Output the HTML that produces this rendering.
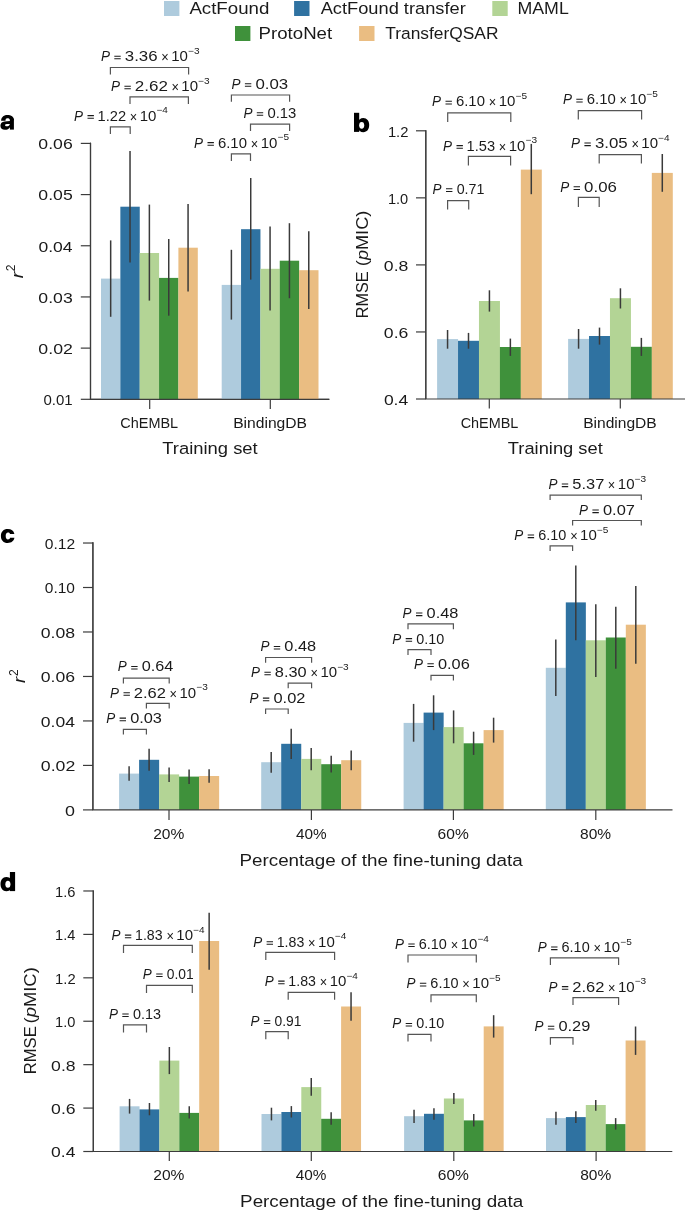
<!DOCTYPE html>
<html><head><meta charset="utf-8"><title>chart</title>
<style>
html,body{margin:0;padding:0;background:#fff;}
svg{display:block;will-change:transform;}
text{font-family:"Liberation Sans", sans-serif;}
</style></head>
<body>
<svg width="685" height="1211" viewBox="0 0 685 1211" font-family='"Liberation Sans", sans-serif'>
<rect width="685" height="1211" fill="#ffffff"/>
<rect x="164.0" y="1.0" width="15.4" height="15" fill="#aecbdd"/>
<text x="189.40" y="13.70" font-size="17.2" fill="#1a1a1a" textLength="79.92" lengthAdjust="spacingAndGlyphs">ActFound</text>
<rect x="294.1" y="1.0" width="15.4" height="15" fill="#2f72a1"/>
<text x="320.70" y="13.70" font-size="17.2" fill="#1a1a1a" textLength="145.04" lengthAdjust="spacingAndGlyphs">ActFound transfer</text>
<rect x="492.3" y="1.0" width="15.4" height="15" fill="#b3d495"/>
<text x="517.48" y="13.70" font-size="17.2" fill="#1a1a1a" textLength="51.34" lengthAdjust="spacingAndGlyphs">MAML</text>
<rect x="235.0" y="26.0" width="15.4" height="15" fill="#3f913b"/>
<text x="258.61" y="38.80" font-size="17.2" fill="#1a1a1a" textLength="73.51" lengthAdjust="spacingAndGlyphs">ProtoNet</text>
<rect x="359.1" y="26.0" width="15.4" height="15" fill="#eabd82"/>
<text x="385.25" y="38.80" font-size="17.2" fill="#1a1a1a" textLength="113.23" lengthAdjust="spacingAndGlyphs">TransferQSAR</text>
<g fill="#000"><rect x="9.9" y="118.6" width="4.0" height="11.0"/><path d="M1.1,120.8 C1.2,116.8 4.5,115.1 7.3,115.1 C11.2,115.1 13.9,116.6 13.9,120.3 L9.9,120.3 C9.9,118.9 8.9,118.3 7.3,118.3 C6.0,118.3 5.5,119.1 5.5,120.8 Z"/><path fill-rule="evenodd" d="M10.0,121.1 L4.6,121.4 C1.9,121.6 0.4,123.3 0.4,125.7 C0.4,128.2 2.2,129.8 4.9,129.8 C7.3,129.8 9.0,128.8 10.0,127.2 Z M9.95,124.0 L6.6,124.1 C5.6,124.2 5.1,124.6 5.1,125.2 C5.1,125.9 5.7,126.3 6.6,126.3 C8.4,126.3 9.6,125.6 9.95,124.0 Z"/></g>
<line x1="90.50" y1="142.80" x2="90.50" y2="399.30" stroke="#3c3c3c" stroke-width="1.2"/>
<line x1="80.80" y1="143.40" x2="90.50" y2="143.40" stroke="#3c3c3c" stroke-width="1.2"/>
<text x="38.39" y="149.30" font-size="15" fill="#1a1a1a" textLength="34.33" lengthAdjust="spacingAndGlyphs">0.06</text>
<line x1="80.80" y1="194.58" x2="90.50" y2="194.58" stroke="#3c3c3c" stroke-width="1.2"/>
<text x="38.39" y="200.48" font-size="15" fill="#1a1a1a" textLength="34.33" lengthAdjust="spacingAndGlyphs">0.05</text>
<line x1="80.80" y1="245.76" x2="90.50" y2="245.76" stroke="#3c3c3c" stroke-width="1.2"/>
<text x="38.40" y="251.66" font-size="15" fill="#1a1a1a" textLength="34.15" lengthAdjust="spacingAndGlyphs">0.04</text>
<line x1="80.80" y1="296.94" x2="90.50" y2="296.94" stroke="#3c3c3c" stroke-width="1.2"/>
<text x="38.39" y="302.84" font-size="15" fill="#1a1a1a" textLength="34.33" lengthAdjust="spacingAndGlyphs">0.03</text>
<line x1="80.80" y1="348.12" x2="90.50" y2="348.12" stroke="#3c3c3c" stroke-width="1.2"/>
<text x="38.39" y="354.02" font-size="15" fill="#1a1a1a" textLength="34.52" lengthAdjust="spacingAndGlyphs">0.02</text>
<line x1="80.80" y1="399.30" x2="90.50" y2="399.30" stroke="#3c3c3c" stroke-width="1.2"/>
<text x="43.50" y="405.20" font-size="15" fill="#1a1a1a" textLength="29.19" lengthAdjust="spacingAndGlyphs">0.01</text>
<line x1="89.90" y1="399.30" x2="329.30" y2="399.30" stroke="#3c3c3c" stroke-width="1.2"/>
<line x1="149.70" y1="399.30" x2="149.70" y2="408.90" stroke="#3c3c3c" stroke-width="1.2"/>
<line x1="270.30" y1="399.30" x2="270.30" y2="408.90" stroke="#3c3c3c" stroke-width="1.2"/>
<rect x="101.00" y="278.60" width="19.40" height="120.70" fill="#aecbdd"/>
<rect x="120.35" y="206.70" width="19.40" height="192.60" fill="#2f72a1"/>
<rect x="139.70" y="253.00" width="19.40" height="146.30" fill="#b3d495"/>
<rect x="159.05" y="277.90" width="19.40" height="121.40" fill="#3f913b"/>
<rect x="178.40" y="247.70" width="19.40" height="151.60" fill="#eabd82"/>
<rect x="221.70" y="284.90" width="19.40" height="114.40" fill="#aecbdd"/>
<rect x="241.05" y="229.20" width="19.40" height="170.10" fill="#2f72a1"/>
<rect x="260.40" y="268.80" width="19.40" height="130.50" fill="#b3d495"/>
<rect x="279.75" y="260.70" width="19.40" height="138.60" fill="#3f913b"/>
<rect x="299.10" y="270.20" width="19.40" height="129.10" fill="#eabd82"/>
<line x1="110.67" y1="240.40" x2="110.67" y2="316.80" stroke="#3a3a3a" stroke-width="1.5"/>
<line x1="130.03" y1="151.00" x2="130.03" y2="262.40" stroke="#3a3a3a" stroke-width="1.5"/>
<line x1="149.38" y1="204.60" x2="149.38" y2="300.60" stroke="#3a3a3a" stroke-width="1.5"/>
<line x1="168.73" y1="239.00" x2="168.73" y2="315.70" stroke="#3a3a3a" stroke-width="1.5"/>
<line x1="188.07" y1="204.00" x2="188.07" y2="291.50" stroke="#3a3a3a" stroke-width="1.5"/>
<line x1="231.38" y1="249.80" x2="231.38" y2="319.60" stroke="#3a3a3a" stroke-width="1.5"/>
<line x1="250.72" y1="178.00" x2="250.72" y2="279.60" stroke="#3a3a3a" stroke-width="1.5"/>
<line x1="270.07" y1="226.40" x2="270.07" y2="310.40" stroke="#3a3a3a" stroke-width="1.5"/>
<line x1="289.43" y1="223.20" x2="289.43" y2="298.20" stroke="#3a3a3a" stroke-width="1.5"/>
<line x1="308.77" y1="231.30" x2="308.77" y2="309.00" stroke="#3a3a3a" stroke-width="1.5"/>
<line x1="89.90" y1="399.30" x2="329.30" y2="399.30" stroke="#3c3c3c" stroke-width="1.2"/>
<line x1="90.50" y1="142.80" x2="90.50" y2="399.30" stroke="#3c3c3c" stroke-width="1.2"/>
<path d="M110.40,74.50V67.50H188.60V74.50" fill="none" stroke="#555555" stroke-width="1.2"/>
<path d="M130.00,103.90V96.80H188.40V103.90" fill="none" stroke="#555555" stroke-width="1.2"/>
<path d="M110.40,133.90V126.90H130.20V133.90" fill="none" stroke="#555555" stroke-width="1.2"/>
<path d="M231.40,101.80V95.00H289.60V101.80" fill="none" stroke="#555555" stroke-width="1.2"/>
<path d="M250.50,130.90V124.20H289.60V130.90" fill="none" stroke="#555555" stroke-width="1.2"/>
<path d="M231.40,160.90V153.90H250.50V160.90" fill="none" stroke="#555555" stroke-width="1.2"/>
<text x="100.90" y="61.20" font-size="14.6" fill="#1a1a1a" textLength="9.00" lengthAdjust="spacingAndGlyphs"><tspan font-style="italic">P</tspan></text>
<path d="M114.30,56.20h6.4M114.30,58.80h6.4" stroke="#1a1a1a" stroke-width="1.05"/>
<text x="124.83" y="61.20" font-size="14.6" fill="#1a1a1a" textLength="32.77" lengthAdjust="spacingAndGlyphs">3.36</text>
<text x="161.30" y="62.30" font-size="14.6" fill="#1a1a1a" textLength="7.48" lengthAdjust="spacingAndGlyphs">×</text>
<text x="171.28" y="61.20" font-size="14.6" fill="#1a1a1a" textLength="16.69" lengthAdjust="spacingAndGlyphs">10</text>
<text x="188.00" y="53.80" font-size="9.0" fill="#1a1a1a" textLength="11.51" lengthAdjust="spacingAndGlyphs">−3</text>
<text x="111.00" y="91.20" font-size="14.6" fill="#1a1a1a" textLength="9.00" lengthAdjust="spacingAndGlyphs"><tspan font-style="italic">P</tspan></text>
<path d="M124.40,86.20h6.4M124.40,88.80h6.4" stroke="#1a1a1a" stroke-width="1.05"/>
<text x="134.75" y="91.20" font-size="14.6" fill="#1a1a1a" textLength="33.12" lengthAdjust="spacingAndGlyphs">2.62</text>
<text x="171.40" y="92.30" font-size="14.6" fill="#1a1a1a" textLength="7.48" lengthAdjust="spacingAndGlyphs">×</text>
<text x="181.38" y="91.20" font-size="14.6" fill="#1a1a1a" textLength="16.69" lengthAdjust="spacingAndGlyphs">10</text>
<text x="198.10" y="83.80" font-size="9.0" fill="#1a1a1a" textLength="11.51" lengthAdjust="spacingAndGlyphs">−3</text>
<text x="74.10" y="120.60" font-size="14.6" fill="#1a1a1a" textLength="9.00" lengthAdjust="spacingAndGlyphs"><tspan font-style="italic">P</tspan></text>
<path d="M87.50,115.60h6.4M87.50,118.20h6.4" stroke="#1a1a1a" stroke-width="1.05"/>
<text x="97.60" y="120.60" font-size="14.6" fill="#1a1a1a" textLength="28.55" lengthAdjust="spacingAndGlyphs">1.22</text>
<text x="129.80" y="121.70" font-size="14.6" fill="#1a1a1a" textLength="7.48" lengthAdjust="spacingAndGlyphs">×</text>
<text x="139.78" y="120.60" font-size="14.6" fill="#1a1a1a" textLength="16.69" lengthAdjust="spacingAndGlyphs">10</text>
<text x="156.50" y="113.20" font-size="9.0" fill="#1a1a1a" textLength="11.40" lengthAdjust="spacingAndGlyphs">−4</text>
<text x="231.50" y="88.70" font-size="14.6" fill="#1a1a1a" textLength="9.00" lengthAdjust="spacingAndGlyphs"><tspan font-style="italic">P</tspan></text>
<path d="M244.90,83.70h6.4M244.90,86.30h6.4" stroke="#1a1a1a" stroke-width="1.05"/>
<text x="255.43" y="88.70" font-size="14.6" fill="#1a1a1a" textLength="32.77" lengthAdjust="spacingAndGlyphs">0.03</text>
<text x="243.40" y="117.70" font-size="14.6" fill="#1a1a1a" textLength="9.00" lengthAdjust="spacingAndGlyphs"><tspan font-style="italic">P</tspan></text>
<path d="M256.80,112.70h6.4M256.80,115.30h6.4" stroke="#1a1a1a" stroke-width="1.05"/>
<text x="267.41" y="117.70" font-size="14.6" fill="#1a1a1a" textLength="28.91" lengthAdjust="spacingAndGlyphs">0.13</text>
<text x="194.10" y="147.60" font-size="14.6" fill="#1a1a1a" textLength="9.00" lengthAdjust="spacingAndGlyphs"><tspan font-style="italic">P</tspan></text>
<path d="M207.50,142.60h6.4M207.50,145.20h6.4" stroke="#1a1a1a" stroke-width="1.05"/>
<text x="217.96" y="147.60" font-size="14.6" fill="#1a1a1a" textLength="28.99" lengthAdjust="spacingAndGlyphs">6.10</text>
<text x="250.80" y="148.70" font-size="14.6" fill="#1a1a1a" textLength="7.48" lengthAdjust="spacingAndGlyphs">×</text>
<text x="260.77" y="147.60" font-size="14.6" fill="#1a1a1a" textLength="16.69" lengthAdjust="spacingAndGlyphs">10</text>
<text x="277.50" y="140.20" font-size="9.0" fill="#1a1a1a" textLength="11.51" lengthAdjust="spacingAndGlyphs">−5</text>
<text x="120.28" y="428.00" font-size="14.5" fill="#1a1a1a" textLength="57.88" lengthAdjust="spacingAndGlyphs">ChEMBL</text>
<text x="233.15" y="427.70" font-size="14.5" fill="#1a1a1a" textLength="73.84" lengthAdjust="spacingAndGlyphs">BindingDB</text>
<text x="162.23" y="454.20" font-size="17.4" fill="#1a1a1a" textLength="95.51" lengthAdjust="spacingAndGlyphs">Training set</text>
<g><rect x="354.0" y="112.8" width="5.2" height="19.1" fill="#000"/><path d="M357.5,122.5 C358.5,119.6 360.6,118.0 363.3,118.0 C366.9,118.0 369.2,121.0 369.2,125.1 C369.2,129.3 366.9,132.2 363.3,132.2 C360.6,132.2 358.5,130.6 357.5,127.7 Z" fill="#000"/><ellipse cx="361.7" cy="125.35" rx="2.55" ry="3.4" fill="#fff"/></g>
<line x1="425.80" y1="130.30" x2="425.80" y2="399.00" stroke="#3c3c3c" stroke-width="1.2"/>
<line x1="416.00" y1="130.80" x2="425.80" y2="130.80" stroke="#3c3c3c" stroke-width="1.2"/>
<text x="387.89" y="136.70" font-size="15" fill="#1a1a1a" textLength="20.55" lengthAdjust="spacingAndGlyphs">1.2</text>
<line x1="416.00" y1="197.85" x2="425.80" y2="197.85" stroke="#3c3c3c" stroke-width="1.2"/>
<text x="387.90" y="203.75" font-size="15" fill="#1a1a1a" textLength="20.31" lengthAdjust="spacingAndGlyphs">1.0</text>
<line x1="416.00" y1="264.90" x2="425.80" y2="264.90" stroke="#3c3c3c" stroke-width="1.2"/>
<text x="383.89" y="270.80" font-size="15" fill="#1a1a1a" textLength="24.51" lengthAdjust="spacingAndGlyphs">0.8</text>
<line x1="416.00" y1="331.95" x2="425.80" y2="331.95" stroke="#3c3c3c" stroke-width="1.2"/>
<text x="383.89" y="337.85" font-size="15" fill="#1a1a1a" textLength="24.51" lengthAdjust="spacingAndGlyphs">0.6</text>
<line x1="416.00" y1="399.00" x2="425.80" y2="399.00" stroke="#3c3c3c" stroke-width="1.2"/>
<text x="383.90" y="404.90" font-size="15" fill="#1a1a1a" textLength="24.33" lengthAdjust="spacingAndGlyphs">0.4</text>
<line x1="489.30" y1="399.00" x2="489.30" y2="408.60" stroke="#3c3c3c" stroke-width="1.2"/>
<line x1="620.30" y1="399.00" x2="620.30" y2="408.60" stroke="#3c3c3c" stroke-width="1.2"/>
<rect x="437.10" y="339.10" width="20.98" height="59.90" fill="#aecbdd"/>
<rect x="458.03" y="340.80" width="20.98" height="58.20" fill="#2f72a1"/>
<rect x="478.96" y="301.00" width="20.98" height="98.00" fill="#b3d495"/>
<rect x="499.89" y="347.00" width="20.98" height="52.00" fill="#3f913b"/>
<rect x="520.82" y="169.60" width="20.98" height="229.40" fill="#eabd82"/>
<rect x="568.10" y="338.90" width="20.98" height="60.10" fill="#aecbdd"/>
<rect x="589.03" y="336.00" width="20.98" height="63.00" fill="#2f72a1"/>
<rect x="609.96" y="298.20" width="20.98" height="100.80" fill="#b3d495"/>
<rect x="630.89" y="346.80" width="20.98" height="52.20" fill="#3f913b"/>
<rect x="651.82" y="172.90" width="20.98" height="226.10" fill="#eabd82"/>
<line x1="447.56" y1="330.00" x2="447.56" y2="348.70" stroke="#3a3a3a" stroke-width="1.5"/>
<line x1="468.50" y1="332.90" x2="468.50" y2="348.70" stroke="#3a3a3a" stroke-width="1.5"/>
<line x1="489.43" y1="290.30" x2="489.43" y2="311.60" stroke="#3a3a3a" stroke-width="1.5"/>
<line x1="510.36" y1="338.60" x2="510.36" y2="355.90" stroke="#3a3a3a" stroke-width="1.5"/>
<line x1="531.29" y1="143.90" x2="531.29" y2="194.20" stroke="#3a3a3a" stroke-width="1.5"/>
<line x1="578.57" y1="329.00" x2="578.57" y2="348.70" stroke="#3a3a3a" stroke-width="1.5"/>
<line x1="599.50" y1="327.60" x2="599.50" y2="344.60" stroke="#3a3a3a" stroke-width="1.5"/>
<line x1="620.43" y1="288.30" x2="620.43" y2="308.50" stroke="#3a3a3a" stroke-width="1.5"/>
<line x1="641.36" y1="337.90" x2="641.36" y2="355.90" stroke="#3a3a3a" stroke-width="1.5"/>
<line x1="662.29" y1="154.00" x2="662.29" y2="191.80" stroke="#3a3a3a" stroke-width="1.5"/>
<line x1="425.20" y1="399.00" x2="685.00" y2="399.00" stroke="#3c3c3c" stroke-width="1.2"/>
<line x1="425.80" y1="130.30" x2="425.80" y2="399.00" stroke="#3c3c3c" stroke-width="1.2"/>
<path d="M447.70,121.90V112.80H510.80V121.90" fill="none" stroke="#555555" stroke-width="1.2"/>
<path d="M468.40,165.50V156.40H510.60V165.50" fill="none" stroke="#555555" stroke-width="1.2"/>
<path d="M447.60,209.50V200.70H468.70V209.50" fill="none" stroke="#555555" stroke-width="1.2"/>
<path d="M578.30,119.60V110.70H641.60V119.60" fill="none" stroke="#555555" stroke-width="1.2"/>
<path d="M599.20,163.50V154.70H641.40V163.50" fill="none" stroke="#555555" stroke-width="1.2"/>
<path d="M578.40,206.90V197.30H599.20V206.90" fill="none" stroke="#555555" stroke-width="1.2"/>
<text x="432.10" y="106.30" font-size="14.6" fill="#1a1a1a" textLength="9.00" lengthAdjust="spacingAndGlyphs"><tspan font-style="italic">P</tspan></text>
<path d="M445.50,101.30h6.4M445.50,103.90h6.4" stroke="#1a1a1a" stroke-width="1.05"/>
<text x="455.96" y="106.30" font-size="14.6" fill="#1a1a1a" textLength="28.99" lengthAdjust="spacingAndGlyphs">6.10</text>
<text x="488.80" y="107.40" font-size="14.6" fill="#1a1a1a" textLength="7.48" lengthAdjust="spacingAndGlyphs">×</text>
<text x="498.77" y="106.30" font-size="14.6" fill="#1a1a1a" textLength="16.69" lengthAdjust="spacingAndGlyphs">10</text>
<text x="515.50" y="98.90" font-size="9.0" fill="#1a1a1a" textLength="11.51" lengthAdjust="spacingAndGlyphs">−5</text>
<text x="443.10" y="150.60" font-size="14.6" fill="#1a1a1a" textLength="9.00" lengthAdjust="spacingAndGlyphs"><tspan font-style="italic">P</tspan></text>
<path d="M456.50,145.60h6.4M456.50,148.20h6.4" stroke="#1a1a1a" stroke-width="1.05"/>
<text x="466.61" y="150.60" font-size="14.6" fill="#1a1a1a" textLength="28.40" lengthAdjust="spacingAndGlyphs">1.53</text>
<text x="498.80" y="151.70" font-size="14.6" fill="#1a1a1a" textLength="7.48" lengthAdjust="spacingAndGlyphs">×</text>
<text x="508.77" y="150.60" font-size="14.6" fill="#1a1a1a" textLength="16.69" lengthAdjust="spacingAndGlyphs">10</text>
<text x="525.50" y="143.20" font-size="9.0" fill="#1a1a1a" textLength="11.51" lengthAdjust="spacingAndGlyphs">−3</text>
<text x="432.60" y="193.80" font-size="14.6" fill="#1a1a1a" textLength="9.00" lengthAdjust="spacingAndGlyphs"><tspan font-style="italic">P</tspan></text>
<path d="M446.00,188.80h6.4M446.00,191.40h6.4" stroke="#1a1a1a" stroke-width="1.05"/>
<text x="456.63" y="193.80" font-size="14.6" fill="#1a1a1a" textLength="27.73" lengthAdjust="spacingAndGlyphs">0.71</text>
<text x="562.90" y="104.30" font-size="14.6" fill="#1a1a1a" textLength="9.00" lengthAdjust="spacingAndGlyphs"><tspan font-style="italic">P</tspan></text>
<path d="M576.30,99.30h6.4M576.30,101.90h6.4" stroke="#1a1a1a" stroke-width="1.05"/>
<text x="586.76" y="104.30" font-size="14.6" fill="#1a1a1a" textLength="28.99" lengthAdjust="spacingAndGlyphs">6.10</text>
<text x="619.60" y="105.40" font-size="14.6" fill="#1a1a1a" textLength="7.48" lengthAdjust="spacingAndGlyphs">×</text>
<text x="629.58" y="104.30" font-size="14.6" fill="#1a1a1a" textLength="16.69" lengthAdjust="spacingAndGlyphs">10</text>
<text x="646.30" y="96.90" font-size="9.0" fill="#1a1a1a" textLength="11.51" lengthAdjust="spacingAndGlyphs">−5</text>
<text x="571.00" y="148.00" font-size="14.6" fill="#1a1a1a" textLength="9.00" lengthAdjust="spacingAndGlyphs"><tspan font-style="italic">P</tspan></text>
<path d="M584.40,143.00h6.4M584.40,145.60h6.4" stroke="#1a1a1a" stroke-width="1.05"/>
<text x="594.93" y="148.00" font-size="14.6" fill="#1a1a1a" textLength="32.77" lengthAdjust="spacingAndGlyphs">3.05</text>
<text x="631.40" y="149.10" font-size="14.6" fill="#1a1a1a" textLength="7.48" lengthAdjust="spacingAndGlyphs">×</text>
<text x="641.38" y="148.00" font-size="14.6" fill="#1a1a1a" textLength="16.69" lengthAdjust="spacingAndGlyphs">10</text>
<text x="658.10" y="140.60" font-size="9.0" fill="#1a1a1a" textLength="11.40" lengthAdjust="spacingAndGlyphs">−4</text>
<text x="560.20" y="191.80" font-size="14.6" fill="#1a1a1a" textLength="9.00" lengthAdjust="spacingAndGlyphs"><tspan font-style="italic">P</tspan></text>
<path d="M573.60,186.80h6.4M573.60,189.40h6.4" stroke="#1a1a1a" stroke-width="1.05"/>
<text x="584.13" y="191.80" font-size="14.6" fill="#1a1a1a" textLength="32.77" lengthAdjust="spacingAndGlyphs">0.06</text>
<text x="460.68" y="427.50" font-size="14.5" fill="#1a1a1a" textLength="57.68" lengthAdjust="spacingAndGlyphs">ChEMBL</text>
<text x="583.15" y="427.50" font-size="14.5" fill="#1a1a1a" textLength="73.63" lengthAdjust="spacingAndGlyphs">BindingDB</text>
<text x="507.83" y="453.80" font-size="17.4" fill="#1a1a1a" textLength="94.91" lengthAdjust="spacingAndGlyphs">Training set</text>
<g><path d="M14.4,533.9 L10.0,533.9 C9.7,533.0 9.0,532.5 8.0,532.5 C6.5,532.5 5.7,533.8 5.7,536.1 C5.7,538.3 6.5,539.5 8.0,539.5 C9.1,539.5 9.8,538.9 10.1,537.8 L14.4,537.8 C13.9,541.1 11.4,543.0 7.7,543.0 C3.5,543.0 0.9,540.3 0.9,536.0 C0.9,531.7 3.5,529.0 7.7,529.0 C11.3,529.0 13.8,530.8 14.4,533.9 Z" fill="#000"/></g>
<line x1="92.90" y1="542.30" x2="92.90" y2="809.90" stroke="#3c3c3c" stroke-width="1.2"/>
<line x1="83.00" y1="543.02" x2="92.90" y2="543.02" stroke="#3c3c3c" stroke-width="1.2"/>
<text x="44.77" y="548.92" font-size="15" fill="#1a1a1a" textLength="30.43" lengthAdjust="spacingAndGlyphs">0.12</text>
<line x1="83.00" y1="587.50" x2="92.90" y2="587.50" stroke="#3c3c3c" stroke-width="1.2"/>
<text x="44.78" y="593.40" font-size="15" fill="#1a1a1a" textLength="30.18" lengthAdjust="spacingAndGlyphs">0.10</text>
<line x1="83.00" y1="631.98" x2="92.90" y2="631.98" stroke="#3c3c3c" stroke-width="1.2"/>
<text x="40.79" y="637.88" font-size="15" fill="#1a1a1a" textLength="34.33" lengthAdjust="spacingAndGlyphs">0.08</text>
<line x1="83.00" y1="676.46" x2="92.90" y2="676.46" stroke="#3c3c3c" stroke-width="1.2"/>
<text x="40.79" y="682.36" font-size="15" fill="#1a1a1a" textLength="34.33" lengthAdjust="spacingAndGlyphs">0.06</text>
<line x1="83.00" y1="720.94" x2="92.90" y2="720.94" stroke="#3c3c3c" stroke-width="1.2"/>
<text x="40.80" y="726.84" font-size="15" fill="#1a1a1a" textLength="34.15" lengthAdjust="spacingAndGlyphs">0.04</text>
<line x1="83.00" y1="765.42" x2="92.90" y2="765.42" stroke="#3c3c3c" stroke-width="1.2"/>
<text x="40.79" y="771.32" font-size="15" fill="#1a1a1a" textLength="34.52" lengthAdjust="spacingAndGlyphs">0.02</text>
<line x1="83.00" y1="809.90" x2="92.90" y2="809.90" stroke="#3c3c3c" stroke-width="1.2"/>
<text x="65.08" y="815.80" font-size="15" fill="#1a1a1a" textLength="9.96" lengthAdjust="spacingAndGlyphs">0</text>
<line x1="169.00" y1="809.90" x2="169.00" y2="819.90" stroke="#3c3c3c" stroke-width="1.2"/>
<line x1="311.40" y1="809.90" x2="311.40" y2="819.90" stroke="#3c3c3c" stroke-width="1.2"/>
<line x1="453.40" y1="809.90" x2="453.40" y2="819.90" stroke="#3c3c3c" stroke-width="1.2"/>
<line x1="595.80" y1="809.90" x2="595.80" y2="819.90" stroke="#3c3c3c" stroke-width="1.2"/>
<rect x="119.10" y="773.60" width="20.05" height="36.30" fill="#aecbdd"/>
<rect x="139.10" y="759.80" width="20.05" height="50.10" fill="#2f72a1"/>
<rect x="159.10" y="774.40" width="20.05" height="35.50" fill="#b3d495"/>
<rect x="179.10" y="776.60" width="20.05" height="33.30" fill="#3f913b"/>
<rect x="199.10" y="776.00" width="20.05" height="33.90" fill="#eabd82"/>
<rect x="261.20" y="762.20" width="20.05" height="47.70" fill="#aecbdd"/>
<rect x="281.20" y="743.80" width="20.05" height="66.10" fill="#2f72a1"/>
<rect x="301.20" y="758.90" width="20.05" height="51.00" fill="#b3d495"/>
<rect x="321.20" y="764.20" width="20.05" height="45.70" fill="#3f913b"/>
<rect x="341.20" y="760.20" width="20.05" height="49.70" fill="#eabd82"/>
<rect x="403.60" y="722.90" width="20.05" height="87.00" fill="#aecbdd"/>
<rect x="423.60" y="712.60" width="20.05" height="97.30" fill="#2f72a1"/>
<rect x="443.60" y="727.10" width="20.05" height="82.80" fill="#b3d495"/>
<rect x="463.60" y="743.30" width="20.05" height="66.60" fill="#3f913b"/>
<rect x="483.60" y="730.10" width="20.05" height="79.80" fill="#eabd82"/>
<rect x="545.80" y="667.80" width="20.05" height="142.10" fill="#aecbdd"/>
<rect x="565.80" y="602.40" width="20.05" height="207.50" fill="#2f72a1"/>
<rect x="585.80" y="640.30" width="20.05" height="169.60" fill="#b3d495"/>
<rect x="605.80" y="637.50" width="20.05" height="172.40" fill="#3f913b"/>
<rect x="625.80" y="624.70" width="20.05" height="185.20" fill="#eabd82"/>
<line x1="129.10" y1="766.30" x2="129.10" y2="780.80" stroke="#3a3a3a" stroke-width="1.5"/>
<line x1="149.10" y1="748.80" x2="149.10" y2="770.70" stroke="#3a3a3a" stroke-width="1.5"/>
<line x1="169.10" y1="767.40" x2="169.10" y2="781.90" stroke="#3a3a3a" stroke-width="1.5"/>
<line x1="189.10" y1="769.40" x2="189.10" y2="783.90" stroke="#3a3a3a" stroke-width="1.5"/>
<line x1="209.10" y1="769.20" x2="209.10" y2="782.80" stroke="#3a3a3a" stroke-width="1.5"/>
<line x1="271.20" y1="752.10" x2="271.20" y2="772.70" stroke="#3a3a3a" stroke-width="1.5"/>
<line x1="291.20" y1="728.70" x2="291.20" y2="758.90" stroke="#3a3a3a" stroke-width="1.5"/>
<line x1="311.20" y1="748.00" x2="311.20" y2="770.30" stroke="#3a3a3a" stroke-width="1.5"/>
<line x1="331.20" y1="755.80" x2="331.20" y2="772.50" stroke="#3a3a3a" stroke-width="1.5"/>
<line x1="351.20" y1="750.60" x2="351.20" y2="770.30" stroke="#3a3a3a" stroke-width="1.5"/>
<line x1="413.60" y1="703.90" x2="413.60" y2="741.70" stroke="#3a3a3a" stroke-width="1.5"/>
<line x1="433.60" y1="695.30" x2="433.60" y2="730.10" stroke="#3a3a3a" stroke-width="1.5"/>
<line x1="453.60" y1="710.40" x2="453.60" y2="743.30" stroke="#3a3a3a" stroke-width="1.5"/>
<line x1="473.60" y1="731.70" x2="473.60" y2="754.90" stroke="#3a3a3a" stroke-width="1.5"/>
<line x1="493.60" y1="717.70" x2="493.60" y2="742.60" stroke="#3a3a3a" stroke-width="1.5"/>
<line x1="555.80" y1="639.60" x2="555.80" y2="695.90" stroke="#3a3a3a" stroke-width="1.5"/>
<line x1="575.80" y1="565.40" x2="575.80" y2="640.30" stroke="#3a3a3a" stroke-width="1.5"/>
<line x1="595.80" y1="604.20" x2="595.80" y2="676.90" stroke="#3a3a3a" stroke-width="1.5"/>
<line x1="615.80" y1="606.70" x2="615.80" y2="668.70" stroke="#3a3a3a" stroke-width="1.5"/>
<line x1="635.80" y1="585.90" x2="635.80" y2="663.80" stroke="#3a3a3a" stroke-width="1.5"/>
<line x1="92.30" y1="809.90" x2="672.50" y2="809.90" stroke="#3c3c3c" stroke-width="1.2"/>
<line x1="92.90" y1="542.30" x2="92.90" y2="809.90" stroke="#3c3c3c" stroke-width="1.2"/>
<path d="M123.40,683.40V678.20H169.20V683.40" fill="none" stroke="#555555" stroke-width="1.2"/>
<path d="M146.40,708.60V703.40H169.20V708.60" fill="none" stroke="#555555" stroke-width="1.2"/>
<path d="M123.40,734.60V729.30H146.40V734.60" fill="none" stroke="#555555" stroke-width="1.2"/>
<path d="M265.60,662.70V657.50H311.60V662.70" fill="none" stroke="#555555" stroke-width="1.2"/>
<path d="M288.20,688.30V683.10H311.60V688.30" fill="none" stroke="#555555" stroke-width="1.2"/>
<path d="M265.60,714.10V709.00H288.20V714.10" fill="none" stroke="#555555" stroke-width="1.2"/>
<path d="M408.00,629.30V623.90H453.40V629.30" fill="none" stroke="#555555" stroke-width="1.2"/>
<path d="M408.00,655.10V649.60H431.00V655.10" fill="none" stroke="#555555" stroke-width="1.2"/>
<path d="M431.00,680.50V675.40H453.40V680.50" fill="none" stroke="#555555" stroke-width="1.2"/>
<path d="M550.10,500.10V495.10H641.30V500.10" fill="none" stroke="#555555" stroke-width="1.2"/>
<path d="M572.60,525.40V520.50H641.30V525.40" fill="none" stroke="#555555" stroke-width="1.2"/>
<path d="M550.10,551.10V545.90H572.60V551.10" fill="none" stroke="#555555" stroke-width="1.2"/>
<text x="117.80" y="671.40" font-size="13.8" fill="#1a1a1a" textLength="9.00" lengthAdjust="spacingAndGlyphs"><tspan font-style="italic">P</tspan></text>
<path d="M131.20,666.40h6.4M131.20,669.00h6.4" stroke="#1a1a1a" stroke-width="1.05"/>
<text x="141.75" y="671.40" font-size="13.8" fill="#1a1a1a" textLength="31.62" lengthAdjust="spacingAndGlyphs">0.64</text>
<text x="110.10" y="697.70" font-size="13.8" fill="#1a1a1a" textLength="9.00" lengthAdjust="spacingAndGlyphs"><tspan font-style="italic">P</tspan></text>
<path d="M123.50,692.70h6.4M123.50,695.30h6.4" stroke="#1a1a1a" stroke-width="1.05"/>
<text x="133.87" y="697.70" font-size="13.8" fill="#1a1a1a" textLength="32.13" lengthAdjust="spacingAndGlyphs">2.62</text>
<text x="169.56" y="698.80" font-size="13.8" fill="#1a1a1a" textLength="7.48" lengthAdjust="spacingAndGlyphs">×</text>
<text x="179.53" y="697.70" font-size="13.8" fill="#1a1a1a" textLength="16.69" lengthAdjust="spacingAndGlyphs">10</text>
<text x="196.25" y="690.30" font-size="9.0" fill="#1a1a1a" textLength="11.51" lengthAdjust="spacingAndGlyphs">−3</text>
<text x="106.20" y="723.10" font-size="13.8" fill="#1a1a1a" textLength="9.00" lengthAdjust="spacingAndGlyphs"><tspan font-style="italic">P</tspan></text>
<path d="M119.60,718.10h6.4M119.60,720.70h6.4" stroke="#1a1a1a" stroke-width="1.05"/>
<text x="130.15" y="723.10" font-size="13.8" fill="#1a1a1a" textLength="31.79" lengthAdjust="spacingAndGlyphs">0.03</text>
<text x="260.40" y="651.40" font-size="13.8" fill="#1a1a1a" textLength="9.00" lengthAdjust="spacingAndGlyphs"><tspan font-style="italic">P</tspan></text>
<path d="M273.80,646.40h6.4M273.80,649.00h6.4" stroke="#1a1a1a" stroke-width="1.05"/>
<text x="284.35" y="651.40" font-size="13.8" fill="#1a1a1a" textLength="31.79" lengthAdjust="spacingAndGlyphs">0.48</text>
<text x="251.00" y="677.20" font-size="13.8" fill="#1a1a1a" textLength="9.00" lengthAdjust="spacingAndGlyphs"><tspan font-style="italic">P</tspan></text>
<path d="M264.40,672.20h6.4M264.40,674.80h6.4" stroke="#1a1a1a" stroke-width="1.05"/>
<text x="274.87" y="677.20" font-size="13.8" fill="#1a1a1a" textLength="31.79" lengthAdjust="spacingAndGlyphs">8.30</text>
<text x="310.46" y="678.30" font-size="13.8" fill="#1a1a1a" textLength="7.48" lengthAdjust="spacingAndGlyphs">×</text>
<text x="320.43" y="677.20" font-size="13.8" fill="#1a1a1a" textLength="16.69" lengthAdjust="spacingAndGlyphs">10</text>
<text x="337.15" y="669.80" font-size="9.0" fill="#1a1a1a" textLength="11.51" lengthAdjust="spacingAndGlyphs">−3</text>
<text x="249.50" y="703.10" font-size="13.8" fill="#1a1a1a" textLength="9.00" lengthAdjust="spacingAndGlyphs"><tspan font-style="italic">P</tspan></text>
<path d="M262.90,698.10h6.4M262.90,700.70h6.4" stroke="#1a1a1a" stroke-width="1.05"/>
<text x="273.44" y="703.10" font-size="13.8" fill="#1a1a1a" textLength="31.96" lengthAdjust="spacingAndGlyphs">0.02</text>
<text x="402.60" y="618.00" font-size="13.8" fill="#1a1a1a" textLength="9.00" lengthAdjust="spacingAndGlyphs"><tspan font-style="italic">P</tspan></text>
<path d="M416.00,613.00h6.4M416.00,615.60h6.4" stroke="#1a1a1a" stroke-width="1.05"/>
<text x="426.55" y="618.00" font-size="13.8" fill="#1a1a1a" textLength="31.79" lengthAdjust="spacingAndGlyphs">0.48</text>
<text x="392.30" y="643.60" font-size="13.8" fill="#1a1a1a" textLength="9.00" lengthAdjust="spacingAndGlyphs"><tspan font-style="italic">P</tspan></text>
<path d="M405.70,638.60h6.4M405.70,641.20h6.4" stroke="#1a1a1a" stroke-width="1.05"/>
<text x="416.33" y="643.60" font-size="13.8" fill="#1a1a1a" textLength="27.97" lengthAdjust="spacingAndGlyphs">0.10</text>
<text x="414.00" y="668.80" font-size="13.8" fill="#1a1a1a" textLength="9.00" lengthAdjust="spacingAndGlyphs"><tspan font-style="italic">P</tspan></text>
<path d="M427.40,663.80h6.4M427.40,666.40h6.4" stroke="#1a1a1a" stroke-width="1.05"/>
<text x="437.95" y="668.80" font-size="13.8" fill="#1a1a1a" textLength="31.79" lengthAdjust="spacingAndGlyphs">0.06</text>
<text x="548.40" y="489.00" font-size="13.8" fill="#1a1a1a" textLength="9.00" lengthAdjust="spacingAndGlyphs"><tspan font-style="italic">P</tspan></text>
<path d="M561.80,484.00h6.4M561.80,486.60h6.4" stroke="#1a1a1a" stroke-width="1.05"/>
<text x="572.34" y="489.00" font-size="13.8" fill="#1a1a1a" textLength="31.96" lengthAdjust="spacingAndGlyphs">5.37</text>
<text x="607.86" y="490.10" font-size="13.8" fill="#1a1a1a" textLength="7.48" lengthAdjust="spacingAndGlyphs">×</text>
<text x="617.83" y="489.00" font-size="13.8" fill="#1a1a1a" textLength="16.69" lengthAdjust="spacingAndGlyphs">10</text>
<text x="634.55" y="481.60" font-size="9.0" fill="#1a1a1a" textLength="11.51" lengthAdjust="spacingAndGlyphs">−3</text>
<text x="579.00" y="515.00" font-size="13.8" fill="#1a1a1a" textLength="9.00" lengthAdjust="spacingAndGlyphs"><tspan font-style="italic">P</tspan></text>
<path d="M592.40,510.00h6.4M592.40,512.60h6.4" stroke="#1a1a1a" stroke-width="1.05"/>
<text x="602.94" y="515.00" font-size="13.8" fill="#1a1a1a" textLength="31.96" lengthAdjust="spacingAndGlyphs">0.07</text>
<text x="514.30" y="540.00" font-size="13.8" fill="#1a1a1a" textLength="9.00" lengthAdjust="spacingAndGlyphs"><tspan font-style="italic">P</tspan></text>
<path d="M527.70,535.00h6.4M527.70,537.60h6.4" stroke="#1a1a1a" stroke-width="1.05"/>
<text x="538.18" y="540.00" font-size="13.8" fill="#1a1a1a" textLength="28.12" lengthAdjust="spacingAndGlyphs">6.10</text>
<text x="570.17" y="541.10" font-size="13.8" fill="#1a1a1a" textLength="7.48" lengthAdjust="spacingAndGlyphs">×</text>
<text x="580.14" y="540.00" font-size="13.8" fill="#1a1a1a" textLength="16.69" lengthAdjust="spacingAndGlyphs">10</text>
<text x="596.86" y="532.60" font-size="9.0" fill="#1a1a1a" textLength="11.51" lengthAdjust="spacingAndGlyphs">−5</text>
<text x="153.22" y="838.50" font-size="14.5" fill="#1a1a1a" textLength="31.15" lengthAdjust="spacingAndGlyphs">20%</text>
<text x="296.09" y="838.50" font-size="14.5" fill="#1a1a1a" textLength="30.67" lengthAdjust="spacingAndGlyphs">40%</text>
<text x="437.62" y="838.50" font-size="14.5" fill="#1a1a1a" textLength="31.15" lengthAdjust="spacingAndGlyphs">60%</text>
<text x="580.10" y="838.50" font-size="14.5" fill="#1a1a1a" textLength="31.06" lengthAdjust="spacingAndGlyphs">80%</text>
<text x="239.50" y="866.00" font-size="17.4" fill="#1a1a1a" textLength="283.14" lengthAdjust="spacingAndGlyphs">Percentage of the fine-tuning data</text>
<g><rect x="9.9" y="872.0" width="5.2" height="19.1" fill="#000"/><path d="M11.6,880.0 C10.6,877.9 8.7,876.9 6.3,876.9 C2.7,876.9 0.5,879.9 0.5,884.0 C0.5,888.2 2.7,891.2 6.3,891.2 C8.7,891.2 10.6,890.0 11.6,887.9 Z" fill="#000"/><ellipse cx="7.9" cy="884.3" rx="2.55" ry="3.5" fill="#fff"/></g>
<line x1="93.30" y1="890.50" x2="93.30" y2="1151.50" stroke="#3c3c3c" stroke-width="1.2"/>
<line x1="83.30" y1="890.98" x2="93.30" y2="890.98" stroke="#3c3c3c" stroke-width="1.2"/>
<text x="55.10" y="896.88" font-size="15" fill="#1a1a1a" textLength="20.39" lengthAdjust="spacingAndGlyphs">1.6</text>
<line x1="83.30" y1="934.40" x2="93.30" y2="934.40" stroke="#3c3c3c" stroke-width="1.2"/>
<text x="55.11" y="940.30" font-size="15" fill="#1a1a1a" textLength="20.23" lengthAdjust="spacingAndGlyphs">1.4</text>
<line x1="83.30" y1="977.82" x2="93.30" y2="977.82" stroke="#3c3c3c" stroke-width="1.2"/>
<text x="55.09" y="983.72" font-size="15" fill="#1a1a1a" textLength="20.55" lengthAdjust="spacingAndGlyphs">1.2</text>
<line x1="83.30" y1="1021.24" x2="93.30" y2="1021.24" stroke="#3c3c3c" stroke-width="1.2"/>
<text x="55.10" y="1027.14" font-size="15" fill="#1a1a1a" textLength="20.31" lengthAdjust="spacingAndGlyphs">1.0</text>
<line x1="83.30" y1="1064.66" x2="93.30" y2="1064.66" stroke="#3c3c3c" stroke-width="1.2"/>
<text x="51.09" y="1070.56" font-size="15" fill="#1a1a1a" textLength="24.51" lengthAdjust="spacingAndGlyphs">0.8</text>
<line x1="83.30" y1="1108.08" x2="93.30" y2="1108.08" stroke="#3c3c3c" stroke-width="1.2"/>
<text x="51.09" y="1113.98" font-size="15" fill="#1a1a1a" textLength="24.51" lengthAdjust="spacingAndGlyphs">0.6</text>
<line x1="83.30" y1="1151.50" x2="93.30" y2="1151.50" stroke="#3c3c3c" stroke-width="1.2"/>
<text x="51.10" y="1157.40" font-size="15" fill="#1a1a1a" textLength="24.33" lengthAdjust="spacingAndGlyphs">0.4</text>
<line x1="169.30" y1="1151.50" x2="169.30" y2="1161.00" stroke="#3c3c3c" stroke-width="1.2"/>
<line x1="311.30" y1="1151.50" x2="311.30" y2="1161.00" stroke="#3c3c3c" stroke-width="1.2"/>
<line x1="453.80" y1="1151.50" x2="453.80" y2="1161.00" stroke="#3c3c3c" stroke-width="1.2"/>
<line x1="596.10" y1="1151.50" x2="596.10" y2="1161.00" stroke="#3c3c3c" stroke-width="1.2"/>
<rect x="119.60" y="1106.30" width="19.95" height="45.20" fill="#aecbdd"/>
<rect x="139.50" y="1109.40" width="19.95" height="42.10" fill="#2f72a1"/>
<rect x="159.40" y="1060.60" width="19.95" height="90.90" fill="#b3d495"/>
<rect x="179.30" y="1112.90" width="19.95" height="38.60" fill="#3f913b"/>
<rect x="199.20" y="941.00" width="19.95" height="210.50" fill="#eabd82"/>
<rect x="261.50" y="1114.00" width="19.95" height="37.50" fill="#aecbdd"/>
<rect x="281.40" y="1112.00" width="19.95" height="39.50" fill="#2f72a1"/>
<rect x="301.30" y="1087.10" width="19.95" height="64.40" fill="#b3d495"/>
<rect x="321.20" y="1118.80" width="19.95" height="32.70" fill="#3f913b"/>
<rect x="341.10" y="1006.50" width="19.95" height="145.00" fill="#eabd82"/>
<rect x="404.10" y="1116.20" width="19.95" height="35.30" fill="#aecbdd"/>
<rect x="424.00" y="1113.80" width="19.95" height="37.70" fill="#2f72a1"/>
<rect x="443.90" y="1098.50" width="19.95" height="53.00" fill="#b3d495"/>
<rect x="463.80" y="1120.40" width="19.95" height="31.10" fill="#3f913b"/>
<rect x="483.70" y="1026.40" width="19.95" height="125.10" fill="#eabd82"/>
<rect x="546.00" y="1118.10" width="19.95" height="33.40" fill="#aecbdd"/>
<rect x="565.90" y="1117.10" width="19.95" height="34.40" fill="#2f72a1"/>
<rect x="585.80" y="1105.00" width="19.95" height="46.50" fill="#b3d495"/>
<rect x="605.70" y="1124.10" width="19.95" height="27.40" fill="#3f913b"/>
<rect x="625.60" y="1040.50" width="19.95" height="111.00" fill="#eabd82"/>
<line x1="129.55" y1="1098.90" x2="129.55" y2="1113.60" stroke="#3a3a3a" stroke-width="1.5"/>
<line x1="149.45" y1="1103.00" x2="149.45" y2="1115.30" stroke="#3a3a3a" stroke-width="1.5"/>
<line x1="169.35" y1="1047.00" x2="169.35" y2="1074.10" stroke="#3a3a3a" stroke-width="1.5"/>
<line x1="189.25" y1="1106.30" x2="189.25" y2="1118.60" stroke="#3a3a3a" stroke-width="1.5"/>
<line x1="209.15" y1="912.70" x2="209.15" y2="969.70" stroke="#3a3a3a" stroke-width="1.5"/>
<line x1="271.45" y1="1107.70" x2="271.45" y2="1120.40" stroke="#3a3a3a" stroke-width="1.5"/>
<line x1="291.35" y1="1106.10" x2="291.35" y2="1117.50" stroke="#3a3a3a" stroke-width="1.5"/>
<line x1="311.25" y1="1078.10" x2="311.25" y2="1095.80" stroke="#3a3a3a" stroke-width="1.5"/>
<line x1="331.15" y1="1112.30" x2="331.15" y2="1124.70" stroke="#3a3a3a" stroke-width="1.5"/>
<line x1="351.05" y1="992.30" x2="351.05" y2="1020.70" stroke="#3a3a3a" stroke-width="1.5"/>
<line x1="414.05" y1="1109.80" x2="414.05" y2="1123.00" stroke="#3a3a3a" stroke-width="1.5"/>
<line x1="433.95" y1="1108.30" x2="433.95" y2="1119.70" stroke="#3a3a3a" stroke-width="1.5"/>
<line x1="453.85" y1="1093.00" x2="453.85" y2="1103.90" stroke="#3a3a3a" stroke-width="1.5"/>
<line x1="473.75" y1="1114.00" x2="473.75" y2="1126.50" stroke="#3a3a3a" stroke-width="1.5"/>
<line x1="493.65" y1="1015.20" x2="493.65" y2="1037.60" stroke="#3a3a3a" stroke-width="1.5"/>
<line x1="555.95" y1="1111.80" x2="555.95" y2="1124.80" stroke="#3a3a3a" stroke-width="1.5"/>
<line x1="575.85" y1="1111.30" x2="575.85" y2="1122.90" stroke="#3a3a3a" stroke-width="1.5"/>
<line x1="595.75" y1="1100.00" x2="595.75" y2="1110.80" stroke="#3a3a3a" stroke-width="1.5"/>
<line x1="615.65" y1="1118.10" x2="615.65" y2="1129.60" stroke="#3a3a3a" stroke-width="1.5"/>
<line x1="635.55" y1="1026.50" x2="635.55" y2="1054.90" stroke="#3a3a3a" stroke-width="1.5"/>
<line x1="92.70" y1="1151.50" x2="672.30" y2="1151.50" stroke="#3c3c3c" stroke-width="1.2"/>
<line x1="93.30" y1="890.50" x2="93.30" y2="1151.50" stroke="#3c3c3c" stroke-width="1.2"/>
<path d="M123.50,952.90V945.30H192.30V952.90" fill="none" stroke="#555555" stroke-width="1.2"/>
<path d="M146.50,992.90V985.40H192.30V992.90" fill="none" stroke="#555555" stroke-width="1.2"/>
<path d="M123.50,1032.40V1024.90H146.50V1032.40" fill="none" stroke="#555555" stroke-width="1.2"/>
<path d="M265.80,959.90V952.40H334.60V959.90" fill="none" stroke="#555555" stroke-width="1.2"/>
<path d="M288.20,999.80V992.30H334.60V999.80" fill="none" stroke="#555555" stroke-width="1.2"/>
<path d="M265.80,1039.20V1031.70H288.20V1039.20" fill="none" stroke="#555555" stroke-width="1.2"/>
<path d="M408.00,962.50V955.00H476.30V962.50" fill="none" stroke="#555555" stroke-width="1.2"/>
<path d="M431.00,1002.20V994.90H476.30V1002.20" fill="none" stroke="#555555" stroke-width="1.2"/>
<path d="M408.00,1041.60V1034.30H431.00V1041.60" fill="none" stroke="#555555" stroke-width="1.2"/>
<path d="M550.40,965.10V957.80H618.60V965.10" fill="none" stroke="#555555" stroke-width="1.2"/>
<path d="M573.00,1004.90V997.60H618.60V1004.90" fill="none" stroke="#555555" stroke-width="1.2"/>
<path d="M550.40,1044.80V1037.60H573.00V1044.80" fill="none" stroke="#555555" stroke-width="1.2"/>
<text x="111.50" y="940.10" font-size="13.8" fill="#1a1a1a" textLength="9.00" lengthAdjust="spacingAndGlyphs"><tspan font-style="italic">P</tspan></text>
<path d="M124.90,935.10h6.4M124.90,937.70h6.4" stroke="#1a1a1a" stroke-width="1.05"/>
<text x="135.04" y="940.10" font-size="13.8" fill="#1a1a1a" textLength="27.55" lengthAdjust="spacingAndGlyphs">1.83</text>
<text x="166.40" y="941.20" font-size="13.8" fill="#1a1a1a" textLength="7.48" lengthAdjust="spacingAndGlyphs">×</text>
<text x="176.37" y="940.10" font-size="13.8" fill="#1a1a1a" textLength="16.69" lengthAdjust="spacingAndGlyphs">10</text>
<text x="193.10" y="932.70" font-size="9.0" fill="#1a1a1a" textLength="11.40" lengthAdjust="spacingAndGlyphs">−4</text>
<text x="142.80" y="978.90" font-size="13.8" fill="#1a1a1a" textLength="9.00" lengthAdjust="spacingAndGlyphs"><tspan font-style="italic">P</tspan></text>
<path d="M156.20,973.90h6.4M156.20,976.50h6.4" stroke="#1a1a1a" stroke-width="1.05"/>
<text x="166.85" y="978.90" font-size="13.8" fill="#1a1a1a" textLength="26.90" lengthAdjust="spacingAndGlyphs">0.01</text>
<text x="108.90" y="1018.90" font-size="13.8" fill="#1a1a1a" textLength="9.00" lengthAdjust="spacingAndGlyphs"><tspan font-style="italic">P</tspan></text>
<path d="M122.30,1013.90h6.4M122.30,1016.50h6.4" stroke="#1a1a1a" stroke-width="1.05"/>
<text x="132.92" y="1018.90" font-size="13.8" fill="#1a1a1a" textLength="28.04" lengthAdjust="spacingAndGlyphs">0.13</text>
<text x="253.20" y="946.70" font-size="13.8" fill="#1a1a1a" textLength="9.00" lengthAdjust="spacingAndGlyphs"><tspan font-style="italic">P</tspan></text>
<path d="M266.60,941.70h6.4M266.60,944.30h6.4" stroke="#1a1a1a" stroke-width="1.05"/>
<text x="276.74" y="946.70" font-size="13.8" fill="#1a1a1a" textLength="27.55" lengthAdjust="spacingAndGlyphs">1.83</text>
<text x="308.10" y="947.80" font-size="13.8" fill="#1a1a1a" textLength="7.48" lengthAdjust="spacingAndGlyphs">×</text>
<text x="318.07" y="946.70" font-size="13.8" fill="#1a1a1a" textLength="16.69" lengthAdjust="spacingAndGlyphs">10</text>
<text x="334.80" y="939.30" font-size="9.0" fill="#1a1a1a" textLength="11.40" lengthAdjust="spacingAndGlyphs">−4</text>
<text x="264.80" y="986.10" font-size="13.8" fill="#1a1a1a" textLength="9.00" lengthAdjust="spacingAndGlyphs"><tspan font-style="italic">P</tspan></text>
<path d="M278.20,981.10h6.4M278.20,983.70h6.4" stroke="#1a1a1a" stroke-width="1.05"/>
<text x="288.34" y="986.10" font-size="13.8" fill="#1a1a1a" textLength="27.55" lengthAdjust="spacingAndGlyphs">1.83</text>
<text x="319.70" y="987.20" font-size="13.8" fill="#1a1a1a" textLength="7.48" lengthAdjust="spacingAndGlyphs">×</text>
<text x="329.67" y="986.10" font-size="13.8" fill="#1a1a1a" textLength="16.69" lengthAdjust="spacingAndGlyphs">10</text>
<text x="346.40" y="978.70" font-size="9.0" fill="#1a1a1a" textLength="11.40" lengthAdjust="spacingAndGlyphs">−4</text>
<text x="250.50" y="1025.80" font-size="13.8" fill="#1a1a1a" textLength="9.00" lengthAdjust="spacingAndGlyphs"><tspan font-style="italic">P</tspan></text>
<path d="M263.90,1020.80h6.4M263.90,1023.40h6.4" stroke="#1a1a1a" stroke-width="1.05"/>
<text x="274.55" y="1025.80" font-size="13.8" fill="#1a1a1a" textLength="26.90" lengthAdjust="spacingAndGlyphs">0.91</text>
<text x="394.90" y="948.90" font-size="13.8" fill="#1a1a1a" textLength="9.00" lengthAdjust="spacingAndGlyphs"><tspan font-style="italic">P</tspan></text>
<path d="M408.30,943.90h6.4M408.30,946.50h6.4" stroke="#1a1a1a" stroke-width="1.05"/>
<text x="418.78" y="948.90" font-size="13.8" fill="#1a1a1a" textLength="28.12" lengthAdjust="spacingAndGlyphs">6.10</text>
<text x="450.77" y="950.00" font-size="13.8" fill="#1a1a1a" textLength="7.48" lengthAdjust="spacingAndGlyphs">×</text>
<text x="460.74" y="948.90" font-size="13.8" fill="#1a1a1a" textLength="16.69" lengthAdjust="spacingAndGlyphs">10</text>
<text x="477.47" y="941.50" font-size="9.0" fill="#1a1a1a" textLength="11.40" lengthAdjust="spacingAndGlyphs">−4</text>
<text x="406.50" y="988.30" font-size="13.8" fill="#1a1a1a" textLength="9.00" lengthAdjust="spacingAndGlyphs"><tspan font-style="italic">P</tspan></text>
<path d="M419.90,983.30h6.4M419.90,985.90h6.4" stroke="#1a1a1a" stroke-width="1.05"/>
<text x="430.38" y="988.30" font-size="13.8" fill="#1a1a1a" textLength="28.12" lengthAdjust="spacingAndGlyphs">6.10</text>
<text x="462.37" y="989.40" font-size="13.8" fill="#1a1a1a" textLength="7.48" lengthAdjust="spacingAndGlyphs">×</text>
<text x="472.34" y="988.30" font-size="13.8" fill="#1a1a1a" textLength="16.69" lengthAdjust="spacingAndGlyphs">10</text>
<text x="489.06" y="980.90" font-size="9.0" fill="#1a1a1a" textLength="11.51" lengthAdjust="spacingAndGlyphs">−5</text>
<text x="392.30" y="1028.40" font-size="13.8" fill="#1a1a1a" textLength="9.00" lengthAdjust="spacingAndGlyphs"><tspan font-style="italic">P</tspan></text>
<path d="M405.70,1023.40h6.4M405.70,1026.00h6.4" stroke="#1a1a1a" stroke-width="1.05"/>
<text x="416.33" y="1028.40" font-size="13.8" fill="#1a1a1a" textLength="27.97" lengthAdjust="spacingAndGlyphs">0.10</text>
<text x="537.70" y="952.00" font-size="13.8" fill="#1a1a1a" textLength="9.00" lengthAdjust="spacingAndGlyphs"><tspan font-style="italic">P</tspan></text>
<path d="M551.10,947.00h6.4M551.10,949.60h6.4" stroke="#1a1a1a" stroke-width="1.05"/>
<text x="561.58" y="952.00" font-size="13.8" fill="#1a1a1a" textLength="28.12" lengthAdjust="spacingAndGlyphs">6.10</text>
<text x="593.57" y="953.10" font-size="13.8" fill="#1a1a1a" textLength="7.48" lengthAdjust="spacingAndGlyphs">×</text>
<text x="603.54" y="952.00" font-size="13.8" fill="#1a1a1a" textLength="16.69" lengthAdjust="spacingAndGlyphs">10</text>
<text x="620.26" y="944.60" font-size="9.0" fill="#1a1a1a" textLength="11.51" lengthAdjust="spacingAndGlyphs">−5</text>
<text x="548.50" y="991.60" font-size="13.8" fill="#1a1a1a" textLength="9.00" lengthAdjust="spacingAndGlyphs"><tspan font-style="italic">P</tspan></text>
<path d="M561.90,986.60h6.4M561.90,989.20h6.4" stroke="#1a1a1a" stroke-width="1.05"/>
<text x="572.27" y="991.60" font-size="13.8" fill="#1a1a1a" textLength="32.13" lengthAdjust="spacingAndGlyphs">2.62</text>
<text x="607.96" y="992.70" font-size="13.8" fill="#1a1a1a" textLength="7.48" lengthAdjust="spacingAndGlyphs">×</text>
<text x="617.93" y="991.60" font-size="13.8" fill="#1a1a1a" textLength="16.69" lengthAdjust="spacingAndGlyphs">10</text>
<text x="634.65" y="984.20" font-size="9.0" fill="#1a1a1a" textLength="11.51" lengthAdjust="spacingAndGlyphs">−3</text>
<text x="534.50" y="1031.30" font-size="13.8" fill="#1a1a1a" textLength="9.00" lengthAdjust="spacingAndGlyphs"><tspan font-style="italic">P</tspan></text>
<path d="M547.90,1026.30h6.4M547.90,1028.90h6.4" stroke="#1a1a1a" stroke-width="1.05"/>
<text x="558.44" y="1031.30" font-size="13.8" fill="#1a1a1a" textLength="31.87" lengthAdjust="spacingAndGlyphs">0.29</text>
<text x="153.32" y="1180.30" font-size="14.5" fill="#1a1a1a" textLength="31.15" lengthAdjust="spacingAndGlyphs">20%</text>
<text x="295.79" y="1180.30" font-size="14.5" fill="#1a1a1a" textLength="30.67" lengthAdjust="spacingAndGlyphs">40%</text>
<text x="437.82" y="1180.30" font-size="14.5" fill="#1a1a1a" textLength="31.15" lengthAdjust="spacingAndGlyphs">60%</text>
<text x="580.20" y="1180.30" font-size="14.5" fill="#1a1a1a" textLength="31.06" lengthAdjust="spacingAndGlyphs">80%</text>
<text x="240.10" y="1206.60" font-size="17.4" fill="#1a1a1a" textLength="283.14" lengthAdjust="spacingAndGlyphs">Percentage of the fine-tuning data</text>
<g transform="rotate(-90)"><text x="-318.30" y="367.90" font-size="16.8" fill="#1a1a1a" textLength="47.02" lengthAdjust="spacingAndGlyphs">RMSE</text></g>
<g transform="rotate(-90)"><text x="-266.19" y="367.90" font-size="16.8" fill="#1a1a1a" textLength="55.48" lengthAdjust="spacingAndGlyphs">(<tspan font-style="italic">p</tspan>MIC)</text></g>
<g transform="rotate(-90)"><text x="-1074.33" y="36.40" font-size="16.8" fill="#1a1a1a" textLength="48.17" lengthAdjust="spacingAndGlyphs">RMSE</text></g>
<g transform="rotate(-90)"><text x="-1023.51" y="36.40" font-size="16.8" fill="#1a1a1a" textLength="56.31" lengthAdjust="spacingAndGlyphs">(<tspan font-style="italic">p</tspan>MIC)</text></g>
<g transform="rotate(-90)"><text x="-278.29" y="23.20" font-size="16.0" fill="#1a1a1a" textLength="6.47" lengthAdjust="spacingAndGlyphs"><tspan font-style="italic">r</tspan></text></g>
<g transform="rotate(-90)"><text x="-271.20" y="14.70" font-size="12.0" fill="#1a1a1a" textLength="6.72" lengthAdjust="spacingAndGlyphs">2</text></g>
<g transform="rotate(-90)"><text x="-683.08" y="25.40" font-size="16.0" fill="#1a1a1a" textLength="6.19" lengthAdjust="spacingAndGlyphs"><tspan font-style="italic">r</tspan></text></g>
<g transform="rotate(-90)"><text x="-676.00" y="18.00" font-size="12.0" fill="#1a1a1a" textLength="6.72" lengthAdjust="spacingAndGlyphs">2</text></g>
</svg>
</body></html>
